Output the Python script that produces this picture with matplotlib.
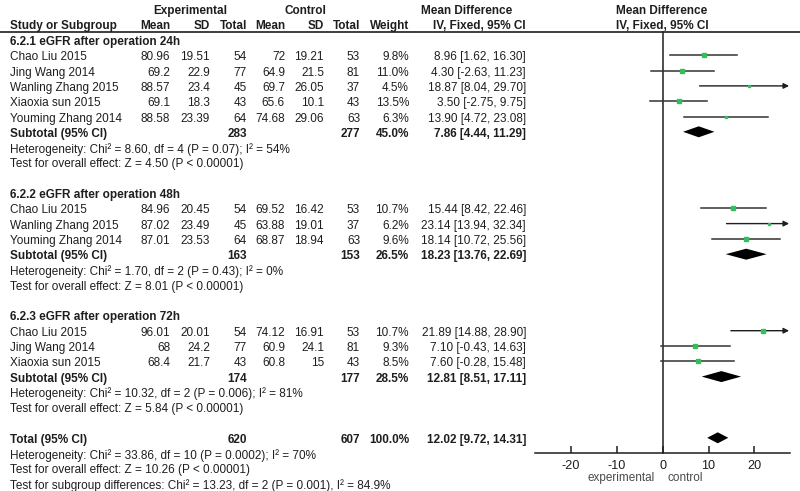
import matplotlib
matplotlib.use("Agg")
from matplotlib import pyplot as plt
from matplotlib.patches import Polygon

# study level data
group_titles = ["6.2.1 eGFR after operation 24h",
                "6.2.2 eGFR after operation 48h",
                "6.2.3 eGFR after operation 72h"]
group_sizes = [5, 3, 3]
studies = ["Chao Liu 2015", "Jing Wang 2014", "Wanling Zhang 2015", "Xiaoxia sun 2015", "Youming Zhang 2014",
           "Chao Liu 2015", "Wanling Zhang 2015", "Youming Zhang 2014",
           "Chao Liu 2015", "Jing Wang 2014", "Xiaoxia sun 2015"]
exp_mean = ["80.96", "69.2", "88.57", "69.1", "88.58", "84.96", "87.02", "87.01", "96.01", "68", "68.4"]
exp_sd = ["19.51", "22.9", "23.4", "18.3", "23.39", "20.45", "23.49", "23.53", "20.01", "24.2", "21.7"]
exp_n = [54, 77, 45, 43, 64, 54, 45, 64, 54, 77, 43]
ctl_mean = ["72", "64.9", "69.7", "65.6", "74.68", "69.52", "63.88", "68.87", "74.12", "60.9", "60.8"]
ctl_sd = ["19.21", "21.5", "26.05", "10.1", "29.06", "16.42", "19.01", "18.94", "16.91", "24.1", "15"]
ctl_n = [53, 81, 37, 43, 63, 53, 37, 63, 53, 81, 43]
weight = [9.8, 11.0, 4.5, 13.5, 6.3, 10.7, 6.2, 9.6, 10.7, 9.3, 8.5]
md = [8.96, 4.30, 18.87, 3.50, 13.90, 15.44, 23.14, 18.14, 21.89, 7.10, 7.60]
ci_lo = [1.62, -2.63, 8.04, -2.75, 4.72, 8.42, 13.94, 10.72, 14.88, -0.43, -0.28]
ci_hi = [16.30, 11.23, 29.70, 9.75, 23.08, 22.46, 32.34, 25.56, 28.90, 14.63, 15.48]

# subgroup summaries
sub_exp_n = [283, 163, 174]
sub_ctl_n = [277, 153, 177]
sub_weight = [45.0, 26.5, 28.5]
sub_md = [7.86, 18.23, 12.81]
sub_lo = [4.44, 13.76, 8.51]
sub_hi = [11.29, 22.69, 17.11]
sub_het = ["Heterogeneity: Chi\u00b2 = 8.60, df = 4 (P = 0.07); I\u00b2 = 54%",
           "Heterogeneity: Chi\u00b2 = 1.70, df = 2 (P = 0.43); I\u00b2 = 0%",
           "Heterogeneity: Chi\u00b2 = 10.32, df = 2 (P = 0.006); I\u00b2 = 81%"]
sub_z = ["Test for overall effect: Z = 4.50 (P < 0.00001)",
         "Test for overall effect: Z = 8.01 (P < 0.00001)",
         "Test for overall effect: Z = 5.84 (P < 0.00001)"]

# overall
tot_exp_n, tot_ctl_n = 620, 607
tot_md, tot_lo, tot_hi = 12.02, 9.72, 14.31
tot_lines = ["Heterogeneity: Chi\u00b2 = 33.86, df = 10 (P = 0.0002); I\u00b2 = 70%",
             "Test for overall effect: Z = 10.26 (P < 0.00001)",
             "Test for subgroup differences: Chi\u00b2 = 13.23, df = 2 (P = 0.001), I\u00b2 = 84.9%"]
xticks = [-20, -10, 0, 10, 20]

# layout (pixels)
W, H = 800, 491
ROW0, STEP = 42.0, 15.3
FS = 8.5
INK = "#1e1e1e"
GREEN = "#2fc25b"
COLS = {"em": 170, "es": 210, "en": 247, "cm": 285, "cs": 324, "cn": 360, "w": 409, "ci": 526}
XMIN, XMAX = -27.9, 27.8
AXIS_Y = 452.7

plt.rcParams["font.family"] = ["Liberation Sans", "DejaVu Sans"]

fig = plt.figure(figsize=(W / 100, H / 100), dpi=100)
tx = fig.add_axes([0, 0, 1, 1])
tx.set_xlim(0, W)
tx.set_ylim(H, 0)
tx.axis("off")

fx = fig.add_axes([535 / W, 0, 255 / W, 1])
fx.set_xlim(XMIN, XMAX)
fx.set_ylim(H, 0)
fx.patch.set_alpha(0)
for s in ["left", "right", "top"]:
    fx.spines[s].set_visible(False)
fx.spines["bottom"].set_position(("data", AXIS_Y))
fx.spines["bottom"].set_linewidth(1.1)
fx.spines["bottom"].set_color(INK)
fx.set_yticks([])
fx.set_xticks(xticks)
fx.set_xticklabels([str(t) for t in xticks])
fx.tick_params(axis="x", direction="in", length=5, width=1.1, color=INK,
               labelsize=FS + 0.6, labelcolor=INK, pad=5)


def put(x, y, s, ha="left", bold=False, size=FS, color=INK):
    tx.text(x, y, s, ha=ha, va="center", fontsize=size, color=color,
            fontweight="bold" if bold else "normal")


def row_y(i):
    return ROW0 + i * STEP


def diamond(y, lo, mid, hi, h=5.5):
    fx.add_patch(Polygon([(lo, y), (mid, y - h), (hi, y), (mid, y + h)],
                         closed=True, color="black", lw=0, zorder=4))


# headers
put(190, 11, "Experimental", ha="center", bold=True)
put(305, 11, "Control", ha="center", bold=True)
put(467, 11, "Mean Difference", ha="center", bold=True)
put(662, 11, "Mean Difference", ha="center", bold=True)
hy = 25.5
put(10, hy, "Study or Subgroup", bold=True)
for key, lab in [("em", "Mean"), ("es", "SD"), ("en", "Total"), ("cm", "Mean"),
                 ("cs", "SD"), ("cn", "Total"), ("w", "Weight"), ("ci", "IV, Fixed, 95% CI")]:
    put(COLS[key], hy, lab, ha="right", bold=True)
put(662, hy, "IV, Fixed, 95% CI", ha="center", bold=True)
tx.plot([0, W], [31.5, 31.5], color=INK, lw=1.2)

# zero line
fx.plot([0, 0], [31.5, AXIS_Y], color=INK, lw=1.1, zorder=1)

row = 0
k = 0
for g, title in enumerate(group_titles):
    put(10, row_y(row), title, bold=True)
    row += 1
    for _ in range(group_sizes[g]):
        y = row_y(row)
        put(10, y, studies[k])
        put(COLS["em"], y, exp_mean[k], ha="right")
        put(COLS["es"], y, exp_sd[k], ha="right")
        put(COLS["en"], y, str(exp_n[k]), ha="right")
        put(COLS["cm"], y, ctl_mean[k], ha="right")
        put(COLS["cs"], y, ctl_sd[k], ha="right")
        put(COLS["cn"], y, str(ctl_n[k]), ha="right")
        put(COLS["w"], y, "%.1f%%" % weight[k], ha="right")
        put(COLS["ci"], y, "%.2f [%.2f, %.2f]" % (md[k], ci_lo[k], ci_hi[k]), ha="right")
        my = y - 2
        if ci_hi[k] > XMAX:
            fx.annotate("", xy=(XMAX - 0.2, my), xytext=(ci_lo[k], my),
                        arrowprops=dict(arrowstyle="-|>", color=INK, lw=1.0,
                                        mutation_scale=8, shrinkA=0, shrinkB=0))
        else:
            fx.plot([ci_lo[k], ci_hi[k]], [my, my], color="#333333", lw=1.1, zorder=2)
        fx.plot(md[k], my, marker="s", ls="none", color=GREEN,
                markersize=0.72 * (1.8 + 0.18 * weight[k]), zorder=3)
        row += 1
        k += 1
    y = row_y(row)
    put(10, y, "Subtotal (95% CI)", bold=True)
    put(COLS["en"], y, str(sub_exp_n[g]), ha="right", bold=True)
    put(COLS["cn"], y, str(sub_ctl_n[g]), ha="right", bold=True)
    put(COLS["w"], y, "%.1f%%" % sub_weight[g], ha="right", bold=True)
    put(COLS["ci"], y, "%.2f [%.2f, %.2f]" % (sub_md[g], sub_lo[g], sub_hi[g]), ha="right", bold=True)
    diamond(y - 2, sub_lo[g], sub_md[g], sub_hi[g])
    row += 1
    put(10, row_y(row), sub_het[g])
    row += 1
    put(10, row_y(row), sub_z[g])
    row += 2

y = row_y(row)
put(10, y, "Total (95% CI)", bold=True)
put(COLS["en"], y, str(tot_exp_n), ha="right", bold=True)
put(COLS["cn"], y, str(tot_ctl_n), ha="right", bold=True)
put(COLS["w"], y, "100.0%", ha="right", bold=True)
put(COLS["ci"], y, "%.2f [%.2f, %.2f]" % (tot_md, tot_lo, tot_hi), ha="right", bold=True)
diamond(y - 2, tot_lo, tot_md, tot_hi)
for line in tot_lines:
    row += 1
    put(10, row_y(row), line)

put(655, 478, "experimental", ha="right", color="#4a4a4a")
put(668, 478, "control", ha="left", color="#4a4a4a")

fig.savefig("out.png", dpi=100)
